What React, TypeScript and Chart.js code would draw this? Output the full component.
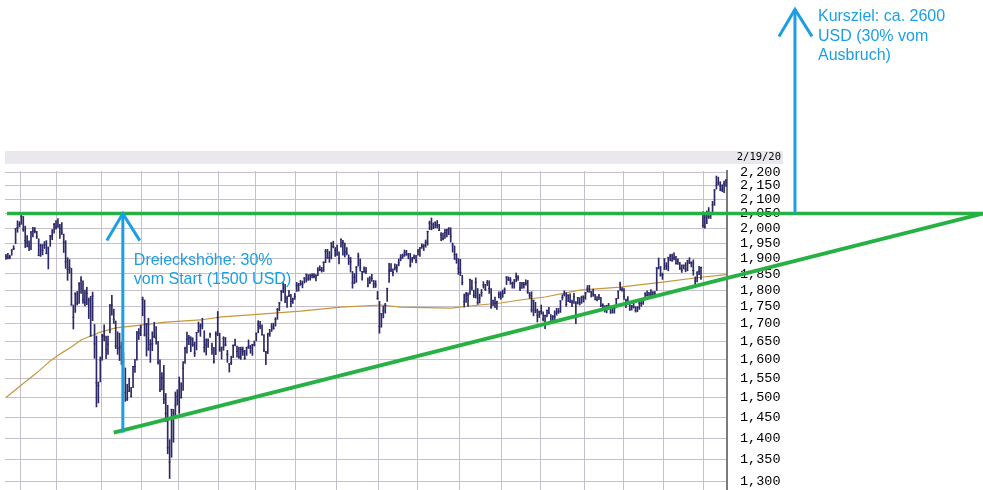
import React, { useEffect, useRef } from 'react';
import Chart from 'chart.js/auto';

// Trading days per month, Aug 2018 (from Aug 22) .. Feb 2020 (to Feb 19)
const daysPerMonth = [8, 19, 23, 21, 19, 21, 19, 21, 21, 22, 20, 22, 22, 20, 23, 20, 21, 21, 12];

const highs = [
  1913, 1916, 1910, 1928, 1941, 1998, 2025, 2022,
  2050, 2040, 2007, 1975, 1957, 1988, 2003, 2002, 1989, 1964, 1946, 1945, 1955, 1958, 1937, 1975, 1995, 2016, 2026,
  2033, 2013, 2019, 1980, 1958, 1902, 1896, 1868, 1755, 1792, 1796, 1823, 1842, 1829, 1800, 1809, 1776, 1781, 1794, 1698, 1665, 1540, 1607,
  1670, 1697, 1665, 1665, 1756, 1784, 1743, 1708, 1677, 1673, 1647, 1618, 1577, 1534, 1550, 1526, 1581, 1600, 1677, 1686, 1696,
  1779, 1770, 1701, 1716, 1655, 1677, 1704, 1692, 1650, 1599, 1565, 1584, 1510, 1480, 1396, 1470, 1470, 1514, 1520,
  1553, 1538, 1594, 1634, 1676, 1667, 1663, 1660, 1648, 1675, 1705, 1700, 1716, 1680, 1657, 1657, 1673, 1645, 1633, 1677, 1736,
  1673, 1634, 1663, 1661, 1625, 1589, 1609, 1640, 1656, 1637, 1634, 1634, 1634, 1625, 1634, 1654, 1639, 1642, 1651,
  1674, 1709, 1707, 1697, 1669, 1622, 1673, 1684, 1701, 1702, 1718, 1745, 1763, 1799, 1823, 1818, 1782, 1799, 1787, 1776, 1790,
  1824, 1821, 1830, 1828, 1839, 1850, 1848, 1848, 1851, 1851, 1848, 1870, 1876, 1871, 1889, 1929, 1929, 1922, 1951, 1956, 1935,
  1943, 1921, 1964, 1959, 1950, 1935, 1911, 1903, 1858, 1852, 1874, 1917, 1898, 1858, 1873, 1871, 1838, 1842, 1849, 1830, 1829, 1796,
  1766, 1730, 1752, 1760, 1806, 1884, 1883, 1866, 1882, 1880, 1898, 1912, 1914, 1927, 1926, 1916, 1916, 1903, 1911, 1910,
  1929, 1935, 1947, 1945, 1960, 1990, 2024, 2035, 2018, 2021, 2026, 2013, 1985, 1983, 1996, 1996, 2001, 2001, 1950, 1940, 1915, 1899,
  1897, 1846, 1788, 1793, 1792, 1834, 1831, 1800, 1838, 1805, 1788, 1802, 1826, 1818, 1830, 1829, 1805, 1770, 1779, 1767, 1795, 1795,
  1800, 1807, 1842, 1841, 1839, 1825, 1833, 1853, 1845, 1824, 1823, 1824, 1832, 1830, 1793, 1795, 1770, 1763, 1743, 1737,
  1755, 1735, 1725, 1740, 1748, 1727, 1724, 1738, 1745, 1745, 1768, 1786, 1798, 1792, 1786, 1789, 1770, 1790, 1765, 1778, 1777, 1782, 1783,
  1793, 1814, 1815, 1796, 1803, 1786, 1780, 1787, 1778, 1759, 1753, 1754, 1760, 1752, 1750, 1747, 1775, 1798, 1825, 1808,
  1805, 1773, 1780, 1763, 1754, 1763, 1750, 1750, 1766, 1768, 1773, 1792, 1798, 1792, 1802, 1795, 1796, 1870, 1901, 1874, 1853,
  1898, 1886, 1903, 1913, 1914, 1918, 1906, 1898, 1887, 1879, 1879, 1886, 1894, 1902, 1889, 1895, 1841, 1858, 1874, 1872, 2056,
  2048, 2059, 2071, 2055, 2093, 2135, 2185, 2181, 2164, 2153, 2166, 2172,
];

const lows = [
  1896, 1898, 1898, 1910, 1928, 1948, 1986, 2004,
  2013, 1989, 1935, 1937, 1925, 1928, 1970, 1984, 1965, 1908, 1906, 1911, 1932, 1915, 1866, 1939, 1961, 1983, 1996,
  2003, 1965, 1978, 1919, 1868, 1830, 1852, 1755, 1685, 1733, 1755, 1760, 1790, 1760, 1752, 1756, 1715, 1665, 1709, 1603, 1476, 1486, 1540,
  1598, 1651, 1602, 1614, 1674, 1725, 1701, 1630, 1614, 1597, 1586, 1575, 1490, 1492, 1515, 1501, 1525, 1565, 1598, 1655, 1666,
  1723, 1665, 1609, 1625, 1592, 1624, 1660, 1642, 1587, 1515, 1519, 1484, 1440, 1363, 1307, 1355, 1390, 1451, 1481,
  1460, 1498, 1518, 1589, 1617, 1641, 1621, 1636, 1608, 1626, 1675, 1664, 1685, 1620, 1612, 1633, 1661, 1614, 1590, 1613, 1666,
  1622, 1601, 1625, 1637, 1592, 1566, 1586, 1605, 1637, 1606, 1603, 1600, 1611, 1600, 1611, 1630, 1617, 1611, 1637,
  1651, 1674, 1685, 1668, 1621, 1586, 1616, 1664, 1678, 1684, 1693, 1713, 1738, 1767, 1792, 1763, 1748, 1780, 1749, 1760, 1772,
  1796, 1797, 1815, 1807, 1822, 1825, 1830, 1831, 1838, 1838, 1828, 1845, 1860, 1856, 1858, 1886, 1900, 1887, 1898, 1934, 1906,
  1910, 1882, 1936, 1910, 1904, 1911, 1880, 1856, 1806, 1820, 1824, 1875, 1859, 1831, 1855, 1851, 1810, 1820, 1827, 1807, 1808, 1772,
  1673, 1690, 1717, 1731, 1766, 1824, 1857, 1844, 1863, 1856, 1876, 1892, 1899, 1906, 1910, 1898, 1872, 1887, 1898, 1885,
  1910, 1906, 1932, 1925, 1936, 1943, 1995, 1994, 1998, 2001, 2001, 1992, 1958, 1960, 1965, 1970, 1978, 1953, 1920, 1896, 1884, 1849,
  1845, 1816, 1749, 1763, 1751, 1787, 1800, 1777, 1776, 1757, 1761, 1781, 1806, 1799, 1814, 1790, 1745, 1753, 1747, 1742, 1776, 1772,
  1778, 1789, 1817, 1829, 1818, 1806, 1806, 1826, 1830, 1798, 1805, 1806, 1815, 1790, 1775, 1734, 1723, 1732, 1705, 1718,
  1728, 1708, 1686, 1720, 1729, 1705, 1706, 1709, 1725, 1730, 1733, 1770, 1782, 1751, 1765, 1762, 1750, 1760, 1700, 1758, 1755, 1760, 1764,
  1772, 1794, 1794, 1779, 1781, 1770, 1767, 1771, 1750, 1742, 1734, 1732, 1743, 1730, 1731, 1731, 1748, 1774, 1800, 1797,
  1772, 1747, 1759, 1740, 1740, 1746, 1734, 1735, 1742, 1751, 1757, 1771, 1782, 1777, 1782, 1784, 1785, 1799, 1866, 1843, 1833,
  1864, 1864, 1860, 1892, 1891, 1895, 1881, 1880, 1864, 1855, 1866, 1857, 1860, 1883, 1872, 1846, 1815, 1825, 1848, 1833, 2002,
  2000, 2015, 2033, 2033, 2046, 2079, 2137, 2152, 2131, 2128, 2124, 2147,
];

const closes = [
  1905, 1902, 1905, 1927, 1932, 1998, 2002, 2012,
  2039, 1995, 1958, 1952, 1939, 1987, 1990, 1989, 1970, 1909, 1941, 1926, 1944, 1915, 1934, 1974, 1974, 2012, 2003,
  2004, 1999, 1986, 1952, 1889, 1864, 1870, 1755, 1719, 1788, 1760, 1820, 1831, 1770, 1764, 1790, 1769, 1665, 1782, 1643, 1538, 1530, 1598,
  1665, 1665, 1627, 1642, 1755, 1754, 1712, 1637, 1631, 1631, 1636, 1593, 1512, 1496, 1516, 1502, 1581, 1581, 1677, 1673, 1690,
  1772, 1668, 1700, 1629, 1641, 1643, 1663, 1659, 1592, 1520, 1551, 1495, 1460, 1377, 1344, 1470, 1461, 1479, 1502,
  1540, 1500, 1576, 1630, 1656, 1660, 1656, 1641, 1617, 1675, 1680, 1693, 1696, 1633, 1640, 1654, 1670, 1637, 1594, 1671, 1718,
  1627, 1633, 1658, 1640, 1614, 1588, 1592, 1638, 1640, 1622, 1607, 1627, 1622, 1603, 1632, 1636, 1632, 1641, 1640,
  1671, 1697, 1692, 1668, 1626, 1620, 1670, 1673, 1691, 1687, 1712, 1742, 1761, 1797, 1819, 1764, 1775, 1783, 1766, 1773, 1781,
  1815, 1814, 1820, 1818, 1837, 1849, 1835, 1847, 1845, 1843, 1844, 1863, 1864, 1861, 1887, 1923, 1901, 1902, 1950, 1938, 1926,
  1911, 1900, 1962, 1951, 1921, 1917, 1899, 1889, 1822, 1840, 1871, 1907, 1869, 1858, 1857, 1859, 1815, 1823, 1836, 1819, 1816, 1775,
  1692, 1729, 1738, 1754, 1804, 1860, 1863, 1855, 1870, 1870, 1886, 1901, 1908, 1918, 1911, 1913, 1878, 1897, 1904, 1893,
  1922, 1934, 1939, 1942, 1952, 1988, 2017, 2001, 2011, 2020, 2010, 1992, 1977, 1964, 1985, 1994, 2000, 1973, 1943, 1912, 1898, 1867,
  1855, 1823, 1765, 1788, 1784, 1832, 1807, 1784, 1824, 1762, 1776, 1792, 1816, 1802, 1823, 1805, 1749, 1768, 1761, 1764, 1786, 1776,
  1789, 1800, 1840, 1833, 1831, 1820, 1822, 1843, 1839, 1807, 1822, 1817, 1821, 1794, 1785, 1741, 1768, 1739, 1725, 1735,
  1736, 1713, 1724, 1739, 1732, 1705, 1721, 1720, 1732, 1736, 1767, 1777, 1788, 1757, 1785, 1765, 1762, 1780, 1761, 1777, 1762, 1779, 1777,
  1791, 1804, 1795, 1795, 1788, 1786, 1771, 1778, 1753, 1754, 1739, 1753, 1752, 1745, 1734, 1745, 1773, 1796, 1818, 1800,
  1781, 1769, 1760, 1740, 1752, 1749, 1739, 1748, 1760, 1760, 1769, 1790, 1784, 1792, 1786, 1794, 1789, 1869, 1869, 1847, 1848,
  1898, 1875, 1903, 1907, 1892, 1901, 1883, 1891, 1869, 1862, 1877, 1865, 1892, 1887, 1884, 1861, 1828, 1853, 1858, 1870, 2009,
  2004, 2049, 2039, 2050, 2080, 2134, 2151, 2160, 2149, 2135, 2156, 2170,
];

// 200-day moving average, read at trading-day indices
const maIndex = [0, 8, 16, 23, 29, 34, 39, 44, 49, 57, 70, 83, 101, 112, 127, 153, 174, 195, 205, 231, 246, 257, 267, 280, 298, 319, 340, 360, 374];
const maValue = [1500, 1532, 1564, 1596, 1618, 1634, 1654, 1665, 1676, 1688, 1696, 1705, 1711, 1720, 1726, 1737, 1749, 1755, 1749, 1746, 1755, 1761, 1770, 1779, 1800, 1809, 1824, 1839, 1848];

const yTicks = [2200, 2150, 2100, 2050, 2000, 1950, 1900, 1850, 1800, 1750, 1700, 1650, 1600, 1550, 1500, 1450, 1400, 1350, 1300];
const yMin = 1281.7;
const yMax = 2203.8;
const lastDate = '2/19/20';

// Annotations (index, price)
const resistance = 2050;
const supportStart = { i: 56, v: 1413 };
const apex = { i: 507.3, v: 2050 };
const heightArrow = { i: 60.7, from: 1413, to: 2050 };
const targetArrow = { i: 409.8, from: 2050, to: 2900 };
const noteLeft = ['Dreieckshöhe: 30%', 'vom Start (1500 USD)'];
const noteRight = ['Kursziel: ca. 2600', 'USD (30% vom', 'Ausbruch)'];

const NAVY = '#2b2968';
const GREEN = '#27b044';
const BLUE = '#1c9fe2';
const GRID = '#c6bfce';

const annotationPlugin = {
  id: 'annotations',
  afterDraw(chart: any) {
    const { ctx, chartArea: a, scales } = chart;
    const x = scales.x;
    const y = scales.y;
    ctx.save();
    // header strip
    ctx.fillStyle = '#eae8ed';
    ctx.fillRect(a.left, a.top - 20, a.right - a.left + 56, 13);
    ctx.fillStyle = '#000';
    ctx.font = '10.5px "DejaVu Sans Mono", monospace';
    ctx.textAlign = 'right';
    ctx.textBaseline = 'middle';
    ctx.fillText(lastDate, a.right + 54, a.top - 13.5);

    const W = chart.width;
    // resistance line
    ctx.strokeStyle = GREEN;
    ctx.lineCap = 'butt';
    ctx.lineWidth = 3.5;
    const yr = y.getPixelForValue(resistance);
    ctx.beginPath();
    ctx.moveTo(a.left + 2, yr);
    ctx.lineTo(W, yr);
    ctx.stroke();
    // support line
    ctx.lineWidth = 4;
    ctx.beginPath();
    ctx.moveTo(x.getPixelForValue(supportStart.i), y.getPixelForValue(supportStart.v));
    ctx.lineTo(x.getPixelForValue(apex.i), y.getPixelForValue(apex.v));
    ctx.stroke();

    // arrows
    const drawArrow = (ar: { i: number; from: number; to: number }) => {
      const px = x.getPixelForValue(ar.i);
      const y0 = y.getPixelForValue(ar.from);
      const y1 = y.getPixelForValue(ar.to);
      ctx.strokeStyle = BLUE;
      ctx.lineWidth = 3;
      ctx.beginPath();
      ctx.moveTo(px, y0);
      ctx.lineTo(px, y1);
      ctx.stroke();
      ctx.beginPath();
      ctx.moveTo(px - 16, y1 + 27);
      ctx.lineTo(px, y1);
      ctx.lineTo(px + 17, y1 + 27);
      ctx.stroke();
      return { px, y0, y1 };
    };
    const a1 = drawArrow(heightArrow);
    const a2 = drawArrow(targetArrow);

    ctx.fillStyle = BLUE;
    ctx.font = '16px "Liberation Sans", Arial, sans-serif';
    ctx.textAlign = 'left';
    ctx.textBaseline = 'alphabetic';
    noteLeft.forEach((t, k) => ctx.fillText(t, a1.px + 11, a1.y1 + 51 + k * 19.5));
    noteRight.forEach((t, k) => ctx.fillText(t, a2.px + 23, a2.y1 + 12 + k * 19.5));
    ctx.restore();
  },
};

export default function App() {
  const ref = useRef<HTMLCanvasElement>(null);
  useEffect(() => {
    const canvas = ref.current as HTMLCanvasElement;
    const bars = highs.map((h, i) => ({ x: i, y: [lows[i], h] }));
    const closePts = closes.map((c, i) => ({ x: i, y: c }));
    const ma = maIndex.map((i, k) => ({ x: i, y: maValue[k] }));
    const monthStarts: number[] = [];
    let acc = 0;
    for (const d of daysPerMonth) {
      monthStarts.push(acc);
      acc += d;
    }
    const gridIdx = monthStarts.slice(1);
    const n = highs.length;

    const chart = new Chart(canvas, {
      type: 'bar',
      data: {
        datasets: [
          {
            type: 'line',
            data: ma as any,
            borderColor: '#c8963c',
            borderWidth: 1.2,
            pointRadius: 0,
            tension: 0,
            order: 3,
          } as any,
          {
            type: 'bar',
            data: bars as any,
            backgroundColor: NAVY,
            borderWidth: 0,
            barThickness: 1,
            order: 2,
          } as any,
          {
            type: 'scatter',
            data: closePts as any,
            pointStyle: 'line',
            pointRadius: 1,
            borderColor: NAVY,
            backgroundColor: NAVY,
            borderWidth: 1,
            showLine: false,
            order: 1,
          } as any,
        ],
      },
      options: {
        responsive: false,
        animation: false,
        devicePixelRatio: 1,
        events: [],
        layout: { padding: { left: 4, right: 200, top: 171, bottom: 30 } },
        plugins: { legend: { display: false }, tooltip: { enabled: false } },
        scales: {
          x: {
            type: 'linear',
            min: -0.5,
            max: n - 0.5,
            offset: false,
            afterBuildTicks: (s: any) => {
              s.ticks = gridIdx.map((i) => ({ value: i - 0.5 }));
            },
            afterFit: (s: any) => {
              s.height = 0;
            },
            ticks: { display: false },
            grid: { color: GRID, lineWidth: 1, drawTicks: false, offset: false },
            border: { display: false },
          },
          y: {
            type: 'logarithmic',
            position: 'right',
            min: yMin,
            max: yMax,
            afterBuildTicks: (s: any) => {
              s.ticks = yTicks.map((v) => ({ value: v }));
            },
            afterFit: (s: any) => {
              s.width = 56;
            },
            ticks: {
              autoSkip: false,
              padding: 13,
              color: '#000',
              font: { family: '"Liberation Mono", "DejaVu Sans Mono", monospace', size: 13.5, lineHeight: 1 },
              callback: (v: any) => Number(v).toLocaleString('en-US'),
            },
            grid: { color: GRID, lineWidth: 1, drawTicks: false },
            border: { display: true, color: '#7a7a7a', width: 2 },
          },
        },
      } as any,
      plugins: [annotationPlugin],
    });
    return () => chart.destroy();
  }, []);

  return (
    <div style={{ position: 'fixed', left: 0, top: 0, width: 983, height: 490, overflow: 'hidden', background: '#fff' }}>
      <canvas ref={ref} width={983} height={520} style={{ display: 'block', width: 983, height: 520 }} />
    </div>
  );
}
